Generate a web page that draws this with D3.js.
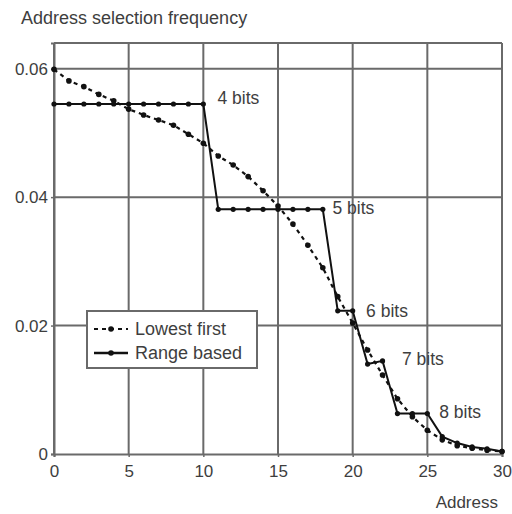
<!DOCTYPE html>
<html><head><meta charset="utf-8">
<script src="https://cdn.jsdelivr.net/npm/d3@7"></script>
<style>
html,body{margin:0;padding:0;background:#fff;}
svg{display:block;font-family:"Liberation Sans",Arial,sans-serif;}
</style></head>
<body><svg id="c" width="512" height="514"></svg>
<script>
const addresses = [0,1,2,3,4,5,6,7,8,9,10,11,12,13,14,15,16,17,18,19,20,21,22,23,24,25,26,27,28,29,30];
const lowestFirst = [0.0599,0.0581,0.0572,0.0560,0.0550,0.0537,0.0528,0.0520,0.0512,0.0498,0.0484,0.0464,0.0450,0.0432,0.0410,0.0386,0.0358,0.0325,0.0290,0.0245,0.0204,0.0162,0.0123,0.0086,0.0058,0.0037,0.0022,0.0013,0.0009,0.0006,0.0004];
const rangeBased = [0.0545,0.0545,0.0545,0.0545,0.0545,0.0545,0.0545,0.0545,0.0545,0.0545,0.0545,0.0381,0.0381,0.0381,0.0381,0.0381,0.0381,0.0381,0.0381,0.0223,0.0223,0.0140,0.0145,0.0063,0.0063,0.0063,0.0027,0.0017,0.0011,0.0008,0.0004];
const xTicks = [0,5,10,15,20,25,30];
const yTicks = [0,0.02,0.04,0.06];
const yTickLabels = ["0","0.02","0.04","0.06"];
const bitLabels = ["4 bits","5 bits","6 bits","7 bits","8 bits"];
const bitLabelX = [10.95,18.65,20.9,23.3,25.8];
const bitLabelY = [0.0555,0.0383,0.0223,0.0148,0.0065];
const seriesNames = ["Lowest first","Range based"];

const svg = d3.select("#c");
const x = d3.scaleLinear().domain([0,30]).range([54,502]);
const y = d3.scaleLinear().domain([0,0.064]).range([454,43]);
const gridC = "#6a6a6a", textC = "#3e3e3e";

// grid
svg.append("g").selectAll("line").data(xTicks).join("line")
  .attr("x1",d=>x(d)).attr("x2",d=>x(d)).attr("y1",y(0.064)).attr("y2",y(0))
  .attr("stroke",gridC).attr("stroke-width",2);
svg.append("g").selectAll("line").data([0.02,0.04,0.06,0.064]).join("line")
  .attr("x1",x(0)).attr("x2",x(30)).attr("y1",d=>y(d)).attr("y2",d=>y(d))
  .attr("stroke",gridC).attr("stroke-width",2);

// axes
const xAxis = svg.append("g").attr("transform",`translate(0,${y(0)})`)
  .call(d3.axisBottom(x).tickValues(xTicks).tickSize(3).tickPadding(8).tickFormat(d3.format("d")));
const yAxis = svg.append("g").attr("transform",`translate(${x(0)},0)`)
  .call(d3.axisLeft(y).tickValues(yTicks).tickSize(3).tickPadding(3).tickFormat((d,i)=>yTickLabels[i]));
[xAxis,yAxis].forEach(g=>{
  g.select(".domain").attr("stroke",gridC).attr("stroke-width",2);
  g.selectAll(".tick line").attr("stroke",gridC).attr("stroke-width",1.5);
  g.selectAll("text").attr("fill",textC).attr("font-size",17).attr("font-family","Liberation Sans, Arial, sans-serif");
});

// series
const line = d3.line().x((d,i)=>x(addresses[i])).y(d=>y(d));
svg.append("path").datum(lowestFirst).attr("d",line).attr("fill","none")
  .attr("stroke","#111").attr("stroke-width",2.2).attr("stroke-dasharray","4,4");
svg.append("g").selectAll("circle").data(lowestFirst).join("circle")
  .attr("cx",(d,i)=>x(addresses[i])).attr("cy",d=>y(d)).attr("r",2.8).attr("fill","#111");
svg.append("path").datum(rangeBased).attr("d",line).attr("fill","none")
  .attr("stroke","#111").attr("stroke-width",2);
svg.append("g").selectAll("circle").data(rangeBased).join("circle")
  .attr("cx",(d,i)=>x(addresses[i])).attr("cy",d=>y(d)).attr("r",2.6).attr("fill","#111");

// bit labels
svg.append("g").selectAll("text").data(bitLabels).join("text")
  .attr("x",(d,i)=>x(bitLabelX[i])).attr("y",(d,i)=>y(bitLabelY[i])+6)
  .attr("font-size",17.5).attr("fill",textC).text(d=>d);

// legend
const lg = svg.append("g");
lg.append("rect").attr("x",87).attr("y",311).attr("width",170).attr("height",57)
  .attr("fill","#fff").attr("stroke",gridC).attr("stroke-width",2);
lg.append("line").attr("x1",94).attr("x2",128).attr("y1",329).attr("y2",329)
  .attr("stroke","#111").attr("stroke-width",2.2).attr("stroke-dasharray","4,4");
lg.append("circle").attr("cx",111).attr("cy",329).attr("r",2.8).attr("fill","#111");
lg.append("line").attr("x1",94).attr("x2",128).attr("y1",353).attr("y2",353)
  .attr("stroke","#111").attr("stroke-width",2.5);
lg.append("circle").attr("cx",111).attr("cy",353).attr("r",2.8).attr("fill","#111");
lg.selectAll("text").data(seriesNames).join("text")
  .attr("x",135).attr("y",(d,i)=>335+i*24).attr("font-size",18).attr("fill",textC).text(d=>d);

// titles
svg.append("text").attr("x",21).attr("y",24).attr("font-size",18).attr("fill",textC)
  .text("Address selection frequency");
svg.append("text").attr("x",498).attr("y",508).attr("text-anchor","end").attr("font-size",17).attr("fill",textC)
  .text("Address");
</script></body></html>
